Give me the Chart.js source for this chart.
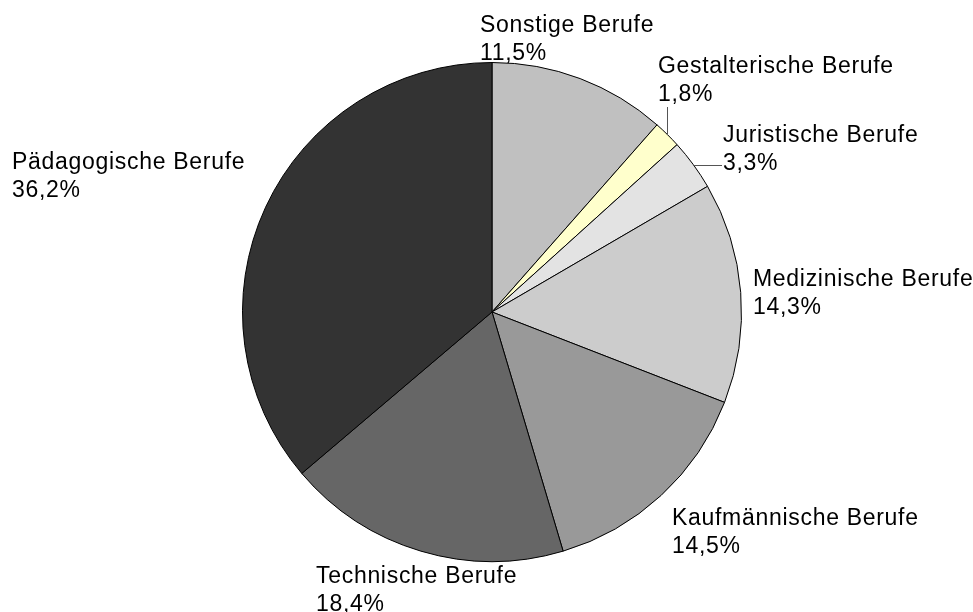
<!DOCTYPE html>
<html>
<head>
<meta charset="utf-8">
<script src="https://cdn.jsdelivr.net/npm/chart.js@4"></script>
<style>
  body { margin: 0; background: #fff; }
  #wrap { width: 973px; height: 612px; }
</style>
</head>
<body>
<div id="wrap"><canvas id="pieChart" width="973" height="612"></canvas></div>
<script>
var categories = ['Sonstige Berufe', 'Gestalterische Berufe', 'Juristische Berufe', 'Medizinische Berufe',
  'Kaufmännische Berufe', 'Technische Berufe', 'Pädagogische Berufe'];
var shares = [11.5, 1.8, 3.3, 14.3, 14.5, 18.4, 36.2];
var sliceColors = ['#c0c0c0', '#ffffcc', '#e3e3e3', '#cccccc', '#999999', '#666666', '#333333'];

// label placement: offset of first text line from pie centre (left edge, baseline)
var labelOffsets = [[-12, -280], [166, -239], [231, -170], [261, -26], [180, 213], [-176, 271], [-480, -143]];
// leader lines: 'v' = vertical up to label, 'h' = horizontal to label, null = none
var leaders = [null, 'v', 'h', null, null, null, null];

var pieLabels = {
  id: 'pieLabels',
  afterDraw: function(chart) {
    var ctx = chart.ctx;
    var arcs = chart.getDatasetMeta(0).data;
    ctx.save();
    ctx.font = '23px "Liberation Sans", Arial, sans-serif';
    if ('letterSpacing' in ctx) ctx.letterSpacing = '0.7px';
    ctx.fillStyle = '#000';
    ctx.textAlign = 'left';
    ctx.textBaseline = 'alphabetic';
    for (var i = 0; i < arcs.length; i++) {
      var a = arcs[i];
      var tx = a.x + labelOffsets[i][0];
      var ty = a.y + labelOffsets[i][1];
      ctx.fillText(categories[i], tx, ty);
      ctx.fillText(shares[i].toFixed(1).replace('.', ',') + '%', tx, ty + 28);

      if (leaders[i]) {
        var mid = (a.startAngle + a.endAngle) / 2;
        var px = a.x + Math.cos(mid) * a.outerRadius;
        var py = a.y + Math.sin(mid) * a.outerRadius;
        ctx.strokeStyle = '#555';
        ctx.lineWidth = 1;
        ctx.beginPath();
        if (leaders[i] === 'v') {
          ctx.moveTo(Math.round(px) + 0.5, py);
          ctx.lineTo(Math.round(px) + 0.5, ty + 34);
        } else {
          ctx.moveTo(px, Math.round(py) + 0.5);
          ctx.lineTo(tx - 1, Math.round(py) + 0.5);
        }
        ctx.stroke();
      }
    }
    ctx.restore();
  }
};

var chart = new Chart(document.getElementById('pieChart').getContext('2d'), {
  type: 'pie',
  data: {
    labels: categories,
    datasets: [{
      data: shares,
      backgroundColor: sliceColors,
      borderColor: '#000',
      borderWidth: 1
    }]
  },
  options: {
    responsive: false,
    devicePixelRatio: 1,
    animation: false,
    layout: { padding: { left: 242, right: 231, top: 62, bottom: 50 } },
    plugins: {
      legend: { display: false },
      tooltip: { enabled: false }
    }
  },
  plugins: [pieLabels]
});
</script>
</body>
</html>
